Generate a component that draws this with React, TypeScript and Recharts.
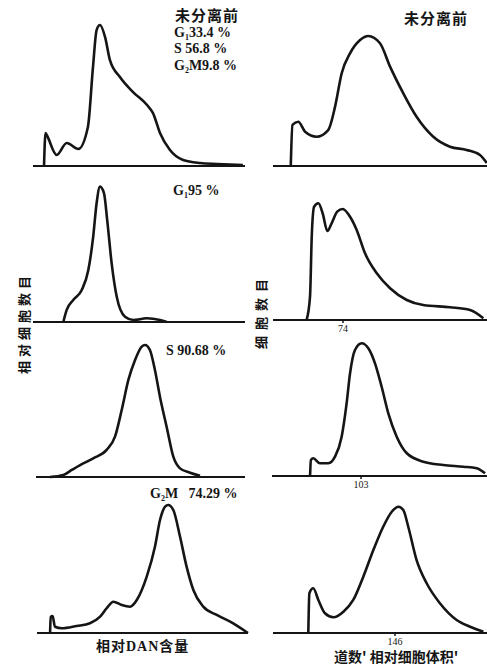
import React from "react"
import { LineChart, Line, XAxis, YAxis } from "recharts"

// 左列：相对DNA含量直方图；右列：细胞体积分布（道数）
const g1Before = [
  [5.2, 0], [5.9, 20.9], [6.5, 19.6], [11.2, 7], [15.9, 14.6], [21.4, 10.8],
  [25.9, 24.7], [28.3, 62.7], [30, 86], [31.6, 89.2], [34, 81.6], [36.3, 67],
  [41, 56.3], [47.2, 46.8], [53.8, 38.6], [56.6, 33.5], [59.9, 20.9], [64.6, 10.1],
  [70.8, 3.8], [78.8, 1.9], [86.8, 1.3], [99, 0.6],
]
const volBefore = [
  [8.3, 0], [9.1, 27.2], [11.8, 29.3], [15, 22.7], [20.4, 19.4], [25.8, 23.8],
  [29, 39.3], [32.1, 61.4], [36, 74.6], [40.7, 83.4], [44.5, 86.1], [50, 81.3],
  [54.7, 65.8], [60.9, 48.1], [67.1, 32.6], [74.9, 19.4], [82.7, 12.8], [90.5, 10.6],
  [96.7, 7.3], [99.9, 2],
]
const g1Sorted = [
  [14.3, 0], [15.9, 8.5], [19, 15.5], [23, 22.5], [26.1, 36.6], [28.4, 60.1],
  [30, 83.6], [31.6, 95.3], [33.5, 90.6], [35, 71.8], [37.1, 41.3], [39.5, 17.8],
  [43.4, 3.7], [47.3, 1.4], [53.6, 2.6], [59.9, 1.4], [63.1, 0],
]
const volG1 = [
  [15.7, 0], [17.3, 16.1], [18.1, 57.4], [19.2, 78.1], [21.2, 80.5], [23.2, 73.6],
  [25.4, 61.4], [27.4, 66.7], [30, 74.7], [32.6, 76.6], [36, 71.2], [39.1, 62.1],
  [43, 46], [48.5, 32.2], [54.7, 21.9], [62.5, 13.8], [70.2, 10.3], [82.7, 8.8],
  [92.1, 6.9], [98.3, 1.2],
]
const sSorted = [
  [6.7, 0], [13.1, 1.4], [17.1, 4.9], [21.1, 8.3], [27.4, 13], [33.8, 18.8],
  [37.8, 28], [41, 46.5], [44.2, 67.4], [47.4, 81.3], [50.6, 90.5], [52.2, 91.7],
  [54.5, 88.2], [56.9, 74.3], [59.3, 55.8], [62.5, 34.9], [65.7, 14.1], [68.9, 6],
  [73.7, 3], [78.5, 0.9],
]
const volS = [
  [17.7, 0], [18.1, 11.2], [19.2, 12.4], [22.3, 8.9], [26.2, 8.9], [29.3, 13.5],
  [32.4, 27.5], [34.7, 50.8], [36.3, 71.8], [38.6, 88.1], [41.7, 92.8], [44.8, 89.3],
  [47.9, 78.8], [51, 62.4], [54.1, 43.8], [58, 27.5], [62.7, 15.9], [70.4, 10],
  [79.7, 7.7], [89, 6.5], [95.2, 5.4], [99.1, 1.9],
]
const g2mSorted = [
  [6.2, 0], [6.5, 11.4], [7.4, 11.9], [8.5, 4.4], [11.7, 3.3], [18.8, 4.9],
  [25.1, 6.8], [29.9, 11.4], [33, 17.3], [36.2, 21.9], [40.1, 19.6], [44.1, 18.4],
  [47.3, 23.1], [52, 39.4], [55.9, 60.3], [58.3, 79], [60.7, 88.3], [62.2, 89.5],
  [64.6, 86], [67.8, 67.3], [70.9, 46.4], [74.1, 30.1], [78.8, 18.4], [85.2, 12.6],
  [93, 6.8], [100, 0],
]
const volG2m = [
  [16.5, 0], [17, 27.8], [18.8, 31.3], [21.2, 23.1], [24.3, 13.8], [28.2, 11],
  [32.9, 14.9], [37.5, 23.1], [42.2, 39.4], [46.9, 58], [51.5, 74.3], [55.5, 84.8],
  [58.6, 88.3], [60.9, 86], [63.2, 74.3], [67.1, 51], [71.8, 34.8], [78, 20.8],
  [85.8, 9.1], [92.1, 4.4], [98.3, 0.9],
]

// 道数峰值标记
const peakChannels = [74, 103, 146]
const peakPositions = [32.7, 41.4, 57]

const toRows = (pts: number[][]) => pts.map(([x, y]) => ({ x, y }))

const ink = "#151515"
const cjk = "'Noto Sans CJK SC', sans-serif"
const serif = "'Liberation Serif', 'DejaVu Serif', serif"

function Panel({
  left, top, w, h, data, tickAt, tickLabel,
}: {
  left: number; top: number; w: number; h: number; data: number[][]
  tickAt?: number; tickLabel?: number
}) {
  const axisH = 14
  return (
    <div style={{ position: "absolute", left: left - 2, top: top - 2 }}>
      <LineChart
        width={w + 4}
        height={h + 4 + axisH}
        data={toRows(data)}
        margin={{ top: 2, right: 2, left: 2, bottom: 2 }}
      >
        <XAxis
          dataKey="x"
          type="number"
          domain={[0, 100]}
          height={axisH}
          ticks={tickAt !== undefined ? [tickAt] : []}
          tickFormatter={() => (tickLabel !== undefined ? String(tickLabel) : "")}
          tick={{ fill: ink, fontSize: 10, fontFamily: serif }}
          tickSize={3}
          tickLine={{ stroke: ink, strokeWidth: 1.5 }}
          axisLine={{ stroke: ink, strokeWidth: 2 }}
        />
        <YAxis
          type="number"
          domain={[0, 100]}
          width={0}
          tick={false}
          tickLine={false}
          axisLine={{ stroke: ink, strokeWidth: 1.5 }}
        />
        <Line
          dataKey="y"
          type="monotone"
          stroke={ink}
          strokeWidth={2.6}
          dot={false}
          isAnimationActive={false}
        />
      </LineChart>
    </div>
  )
}

const Sub = ({ n }: { n: string }) => (
  <span style={{ fontSize: 8, position: "relative", top: 3 }}>{n}</span>
)

const txt = (
  left: number, top: number, text: React.ReactNode, size = 13, family = serif, spacing = 0,
): React.ReactElement => (
  <div
    style={{
      position: "absolute", left, top, fontSize: size, fontFamily: family,
      fontWeight: 700, color: ink, whiteSpace: "nowrap", lineHeight: 1,
      letterSpacing: spacing,
    }}
  >
    {text}
  </div>
)

export default function App() {
  return (
    <div style={{ position: "absolute", left: 0, top: 0, width: 487, height: 668, background: "#fff" }}>
      <Panel left={33} top={8} w={212} h={158} data={g1Before} />
      <Panel left={273} top={15} w={214} h={151} data={volBefore} />
      <Panel left={33} top={180} w={212} h={142} data={g1Sorted} />
      <Panel left={273} top={175} w={214} h={145} data={volG1} tickAt={peakPositions[0]} tickLabel={peakChannels[0]} />
      <Panel left={36} top={333} w={209} h={144} data={sSorted} />
      <Panel left={272} top={333} w={215} h={143} data={volS} tickAt={peakPositions[1]} tickLabel={peakChannels[1]} />
      <Panel left={37} top={490} w={211} h={143} data={g2mSorted} />
      <Panel left={273} top={490} w={214} h={143} data={volG2m} tickAt={peakPositions[2]} tickLabel={peakChannels[2]} />

      {txt(175, 7, "未分离前", 15, cjk, 1)}
      {txt(174, 26, <>G<Sub n="1" />33.4 %</>, 14)}
      {txt(174, 42, "S 56.8 %", 14)}
      {txt(174, 59, <>G<Sub n="2" />M9.8 %</>, 14)}
      {txt(404, 10, "未分离前", 15, cjk, 1)}
      {txt(173, 184, <>G<Sub n="1" />95 %</>, 14)}
      {txt(166, 344, "S 90.68 %", 14)}
      {txt(150, 487, <>G<Sub n="2" />M&nbsp;&nbsp;&nbsp;74.29 %</>, 14)}
      {txt(96, 638, <>相对<span style={{ fontFamily: serif }}>DAN</span>含量</>, 14, cjk, 1)}
      {txt(334, 649, "道数'  相对细胞体积'", 14, cjk)}

      <div
        style={{
          position: "absolute", left: 23, top: 323, transform: "translate(-50%, -50%) rotate(-90deg)",
          fontFamily: cjk, fontWeight: 700, fontSize: 13, letterSpacing: 4, whiteSpace: "nowrap", color: ink,
        }}
      >
        相对细胞数目
      </div>
      <div
        style={{
          position: "absolute", left: 260, top: 311, transform: "translate(-50%, -50%) rotate(-90deg)",
          fontFamily: cjk, fontWeight: 700, fontSize: 13, letterSpacing: 6, whiteSpace: "nowrap", color: ink,
        }}
      >
        细胞数目
      </div>
    </div>
  )
}
